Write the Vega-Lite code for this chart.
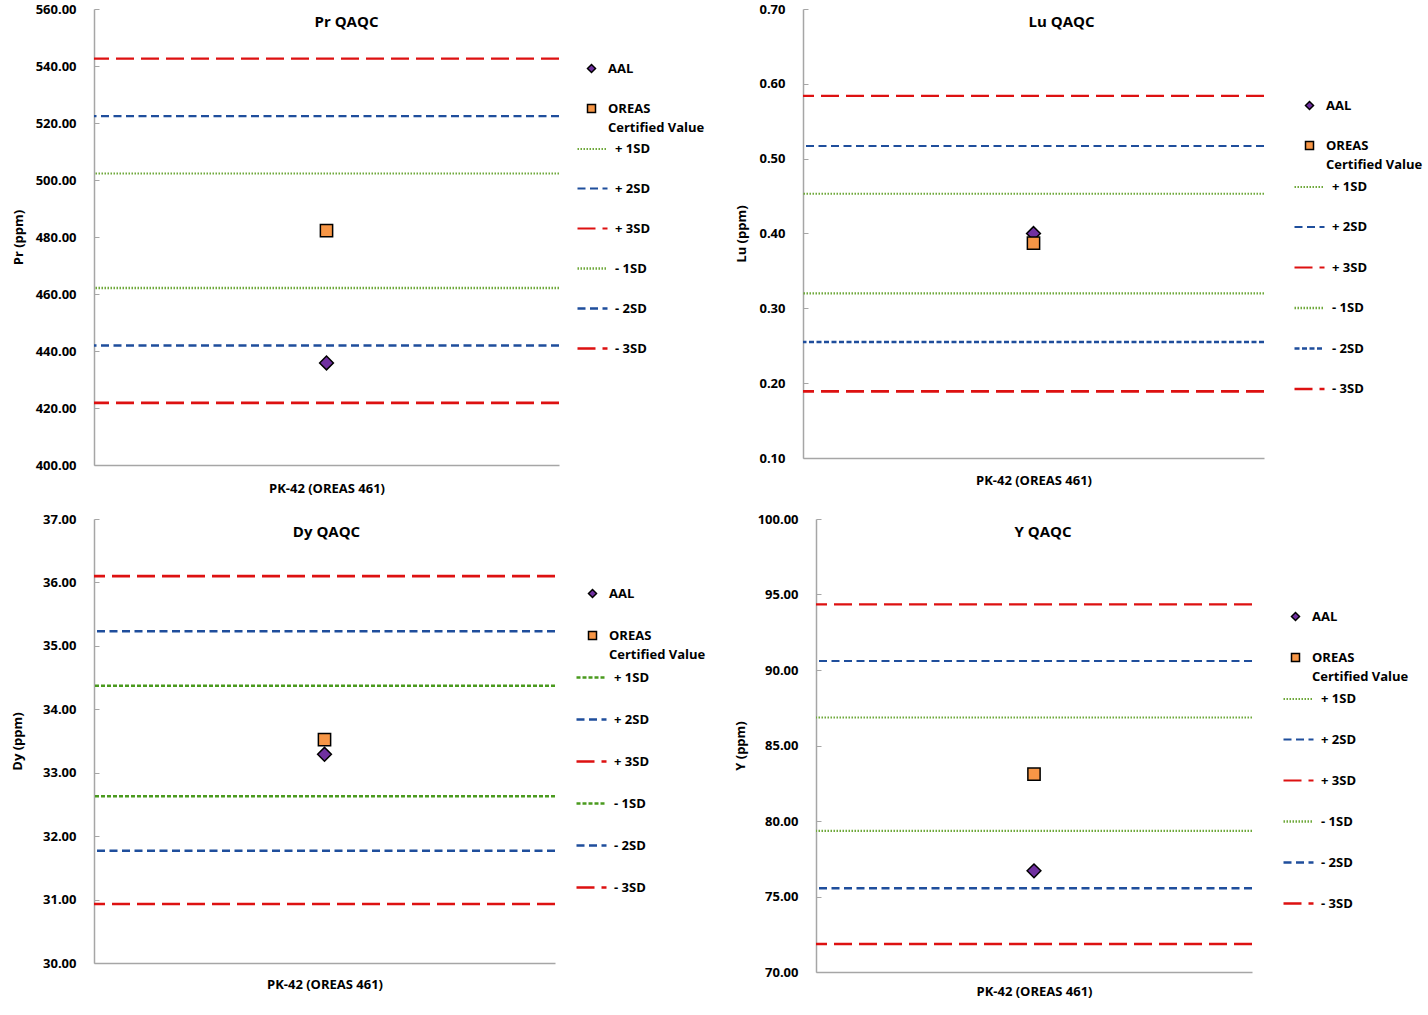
{
  "$schema": "https://vega.github.io/schema/vega-lite/v6.json",
  "background": "white",
  "padding": {"left": 11, "top": 3, "right": 0, "bottom": 0},
  "config": {
    "font": "Open Sans",
    "view": {"stroke": null},
    "style": {"guide-label": {"lineHeight": 19, "dy": 4}},
    "axis": {
      "grid": false,
      "domainColor": "#A6A6A6",
      "domainWidth": 1.5,
      "tickColor": "#A6A6A6",
      "labelFont": "Open Sans",
      "labelFontWeight": "bold",
      "labelFontSize": 13,
      "labelColor": "black",
      "titleFont": "Open Sans",
      "titleFontWeight": "bold",
      "titleFontSize": 13,
      "titleColor": "black"
    },
    "axisY": {"labelBaseline": "alphabetic"},
    "legend": {
      "labelFont": "Open Sans",
      "labelFontWeight": "bold",
      "labelFontSize": 13,
      "labelColor": "black",
      "labelBaseline": "alphabetic",
      "title": null
    },
    "title": {"font": "Open Sans", "fontWeight": "bold", "fontSize": 15, "color": "black", "anchor": "middle", "frame": "group"}
  },
  "spacing": 18,
  "resolve": {"scale": {"x": "independent", "y": "independent", "stroke": "independent", "strokeDash": "independent", "strokeWidth": "independent", "fill": "independent", "shape": "independent"}, "legend": {"stroke": "independent", "fill": "independent", "shape": "independent", "strokeDash": "independent", "strokeWidth": "independent"}},
  "vconcat": [
    {
      "spacing": 30,
      "resolve": {"scale": {"x": "independent", "y": "independent", "stroke": "independent", "strokeDash": "independent", "strokeWidth": "independent", "fill": "independent", "shape": "independent"}, "legend": {"stroke": "independent", "fill": "independent", "shape": "independent", "strokeDash": "independent", "strokeWidth": "independent"}},
      "hconcat": [
        {
          "width": 465,
          "height": 456,
          "title": {"text": "Pr QAQC", "offset": -27, "dx": 20},
          "data": {"values": [
            {"sample": "PK-42 (OREAS 461)", "kind": "line", "series": "+ 1SD", "value": 502.3},
            {"sample": "PK-42 (OREAS 461)", "kind": "line", "series": "+ 2SD", "value": 522.4},
            {"sample": "PK-42 (OREAS 461)", "kind": "line", "series": "+ 3SD", "value": 542.6},
            {"sample": "PK-42 (OREAS 461)", "kind": "line", "series": "- 1SD", "value": 462.1},
            {"sample": "PK-42 (OREAS 461)", "kind": "line", "series": "- 2SD", "value": 441.9},
            {"sample": "PK-42 (OREAS 461)", "kind": "line", "series": "- 3SD", "value": 421.8},
            {"sample": "PK-42 (OREAS 461)", "kind": "point", "series": "AAL", "value": 435.8},
            {"sample": "PK-42 (OREAS 461)", "kind": "point", "series": "OREAS Certified Value", "value": 482.2}
          ]},
          "encoding": {
            "y": {"field": "value", "type": "quantitative", "scale": {"domain": [400, 560], "nice": false, "zero": false},
              "axis": {"title": "Pr (ppm)", "values": [400, 420, 440, 460, 480, 500, 520, 540, 560], "format": ".2f", "tickSize": -5, "labelPadding": 23, "titlePadding": 10}}
          },
          "layer": [
            {
              "transform": [{"filter": "datum.kind == 'line'"}],
              "mark": {"type": "rule"},
              "encoding": {
                "stroke": {"field": "series", "type": "nominal",
                  "scale": {"domain": ["+ 1SD", "+ 2SD", "+ 3SD", "- 1SD", "- 2SD", "- 3SD"], "range": ["#6EA83A", "#1F4E9C", "#DD1111", "#6EA83A", "#1F4E9C", "#DD1111"]},
                  "legend": {"orient": "none", "legendX": 482, "legendY": 124, "symbolType": "stroke", "symbolSize": 900, "labelOffset": 6, "rowPadding": 16}},
                "strokeDash": {"field": "series", "type": "nominal",
                  "scale": {"domain": ["+ 1SD", "+ 2SD", "+ 3SD", "- 1SD", "- 2SD", "- 3SD"], "range": [[1.5, 1.5], [8, 4.5], [18, 7], [1.5, 1.5], [8, 4.5], [18, 7]]}},
                "strokeWidth": {"field": "series", "type": "nominal",
                  "scale": {"domain": ["+ 1SD", "+ 2SD", "+ 3SD", "- 1SD", "- 2SD", "- 3SD"], "range": [2, 2.6, 3.2, 2, 2.6, 3.2]}}
              }
            },
            {
              "transform": [{"filter": "datum.kind == 'point'"}],
              "mark": {"type": "point", "filled": true, "stroke": "black", "strokeWidth": 1.5, "opacity": 1},
              "encoding": {
                "x": {"field": "sample", "type": "nominal", "axis": {"title": null, "ticks": false, "labelAngle": 0, "labelPadding": 13, "labelFontSize": 13}},
                "fill": {"field": "series", "type": "nominal",
                  "scale": {"domain": ["AAL", "OREAS Certified Value"], "range": ["#7030A0", "#F79646"]},
                  "legend": {"orient": "none", "legendX": 491, "legendY": 53, "symbolSize": 64, "labelOffset": 10, "rowPadding": 25,
                    "labelExpr": "datum.label == 'OREAS Certified Value' ? ['OREAS', 'Certified Value'] : datum.label"}},
                "shape": {"field": "series", "type": "nominal",
                  "scale": {"domain": ["AAL", "OREAS Certified Value"], "range": ["diamond", "square"]},
                  "legend": {"orient": "none", "legendX": 491, "legendY": 53, "symbolSize": 64, "labelOffset": 10, "rowPadding": 25,
                    "labelExpr": "datum.label == 'OREAS Certified Value' ? ['OREAS', 'Certified Value'] : datum.label"}},
                "size": {"field": "series", "type": "nominal", "scale": {"domain": ["AAL", "OREAS Certified Value"], "range": [190, 150]}, "legend": null}
              }
            }
          ]
        },
        {
          "width": 461,
          "height": 449,
          "title": {"text": "Lu QAQC", "offset": -27, "dx": 28},
          "data": {"values": [
            {"sample": "PK-42 (OREAS 461)", "kind": "line", "series": "+ 1SD", "value": 0.453},
            {"sample": "PK-42 (OREAS 461)", "kind": "line", "series": "+ 2SD", "value": 0.517},
            {"sample": "PK-42 (OREAS 461)", "kind": "line", "series": "+ 3SD", "value": 0.584},
            {"sample": "PK-42 (OREAS 461)", "kind": "line", "series": "- 1SD", "value": 0.320},
            {"sample": "PK-42 (OREAS 461)", "kind": "line", "series": "- 2SD", "value": 0.255},
            {"sample": "PK-42 (OREAS 461)", "kind": "line", "series": "- 3SD", "value": 0.189},
            {"sample": "PK-42 (OREAS 461)", "kind": "point", "series": "AAL", "value": 0.400},
            {"sample": "PK-42 (OREAS 461)", "kind": "point", "series": "OREAS Certified Value", "value": 0.387}
          ]},
          "encoding": {
            "y": {"field": "value", "type": "quantitative", "scale": {"domain": [0.1, 0.7], "nice": false, "zero": false},
              "axis": {"title": "Lu (ppm)", "values": [0.1, 0.2, 0.3, 0.4, 0.5, 0.6, 0.7], "format": ".2f", "tickSize": -5, "labelPadding": 23, "titlePadding": 10}}
          },
          "layer": [
            {
              "transform": [{"filter": "datum.kind == 'line'"}],
              "mark": {"type": "rule"},
              "encoding": {
                "stroke": {"field": "series", "type": "nominal",
                  "scale": {"domain": ["+ 1SD", "+ 2SD", "+ 3SD", "- 1SD", "- 2SD", "- 3SD"], "range": ["#6EA83A", "#1F4E9C", "#DD1111", "#6EA83A", "#1F4E9C", "#DD1111"]},
                  "legend": {"orient": "none", "legendX": 490, "legendY": 162, "symbolType": "stroke", "symbolSize": 900, "labelOffset": 6, "rowPadding": 16.5}},
                "strokeDash": {"field": "series", "type": "nominal",
                  "scale": {"domain": ["+ 1SD", "+ 2SD", "+ 3SD", "- 1SD", "- 2SD", "- 3SD"], "range": [[1.5, 1.5], [8, 4.5], [18, 7], [1.5, 1.5], [5, 2.5], [18, 7]]}},
                "strokeWidth": {"field": "series", "type": "nominal",
                  "scale": {"domain": ["+ 1SD", "+ 2SD", "+ 3SD", "- 1SD", "- 2SD", "- 3SD"], "range": [2, 2.6, 3.2, 2, 2.6, 3.2]}}
              }
            },
            {
              "transform": [{"filter": "datum.kind == 'point'"}],
              "mark": {"type": "point", "filled": true, "stroke": "black", "strokeWidth": 1.5, "opacity": 1},
              "encoding": {
                "x": {"field": "sample", "type": "nominal", "axis": {"title": null, "ticks": false, "labelAngle": 0, "labelPadding": 12, "labelFontSize": 13}},
                "fill": {"field": "series", "type": "nominal",
                  "scale": {"domain": ["AAL", "OREAS Certified Value"], "range": ["#7030A0", "#F79646"]},
                  "legend": {"orient": "none", "legendX": 500, "legendY": 90, "symbolSize": 64, "labelOffset": 10, "rowPadding": 25,
                    "labelExpr": "datum.label == 'OREAS Certified Value' ? ['OREAS', 'Certified Value'] : datum.label"}},
                "shape": {"field": "series", "type": "nominal",
                  "scale": {"domain": ["AAL", "OREAS Certified Value"], "range": ["diamond", "square"]},
                  "legend": {"orient": "none", "legendX": 500, "legendY": 90, "symbolSize": 64, "labelOffset": 10, "rowPadding": 25,
                    "labelExpr": "datum.label == 'OREAS Certified Value' ? ['OREAS', 'Certified Value'] : datum.label"}},
                "size": {"field": "series", "type": "nominal", "scale": {"domain": ["AAL", "OREAS Certified Value"], "range": [190, 150]}, "legend": null}
              }
            }
          ]
        }
      ]
    },
    {
      "spacing": 28,
      "resolve": {"scale": {"x": "independent", "y": "independent", "stroke": "independent", "strokeDash": "independent", "strokeWidth": "independent", "fill": "independent", "shape": "independent"}, "legend": {"stroke": "independent", "fill": "independent", "shape": "independent", "strokeDash": "independent", "strokeWidth": "independent"}},
      "hconcat": [
        {
          "width": 461,
          "height": 444,
          "title": {"text": "Dy QAQC", "offset": -27, "dx": 2},
          "data": {"values": [
            {"sample": "PK-42 (OREAS 461)", "kind": "line", "series": "+ 1SD", "value": 34.37},
            {"sample": "PK-42 (OREAS 461)", "kind": "line", "series": "+ 2SD", "value": 35.23},
            {"sample": "PK-42 (OREAS 461)", "kind": "line", "series": "+ 3SD", "value": 36.10},
            {"sample": "PK-42 (OREAS 461)", "kind": "line", "series": "- 1SD", "value": 32.63},
            {"sample": "PK-42 (OREAS 461)", "kind": "line", "series": "- 2SD", "value": 31.77},
            {"sample": "PK-42 (OREAS 461)", "kind": "line", "series": "- 3SD", "value": 30.93},
            {"sample": "PK-42 (OREAS 461)", "kind": "point", "series": "AAL", "value": 33.29},
            {"sample": "PK-42 (OREAS 461)", "kind": "point", "series": "OREAS Certified Value", "value": 33.52}
          ]},
          "encoding": {
            "y": {"field": "value", "type": "quantitative", "scale": {"domain": [30, 37], "nice": false, "zero": false},
              "axis": {"title": "Dy (ppm)", "values": [30, 31, 32, 33, 34, 35, 36, 37], "format": ".2f", "tickSize": -5, "labelPadding": 23, "titlePadding": 18}}
          },
          "layer": [
            {
              "transform": [{"filter": "datum.kind == 'line'"}],
              "mark": {"type": "rule"},
              "encoding": {
                "stroke": {"field": "series", "type": "nominal",
                  "scale": {"domain": ["+ 1SD", "+ 2SD", "+ 3SD", "- 1SD", "- 2SD", "- 3SD"], "range": ["#4A9A1E", "#1F4E9C", "#DD1111", "#4A9A1E", "#1F4E9C", "#DD1111"]},
                  "legend": {"orient": "none", "legendX": 481, "legendY": 142, "symbolType": "stroke", "symbolSize": 900, "labelOffset": 6, "rowPadding": 18}},
                "strokeDash": {"field": "series", "type": "nominal",
                  "scale": {"domain": ["+ 1SD", "+ 2SD", "+ 3SD", "- 1SD", "- 2SD", "- 3SD"], "range": [[4, 2], [8, 4.5], [18, 7], [4, 2], [8, 4.5], [18, 7]]}},
                "strokeWidth": {"field": "series", "type": "nominal",
                  "scale": {"domain": ["+ 1SD", "+ 2SD", "+ 3SD", "- 1SD", "- 2SD", "- 3SD"], "range": [2.6, 2.6, 3.2, 2.6, 2.6, 3.2]}}
              }
            },
            {
              "transform": [{"filter": "datum.kind == 'point'"}],
              "mark": {"type": "point", "filled": true, "stroke": "black", "strokeWidth": 1.5, "opacity": 1},
              "encoding": {
                "x": {"field": "sample", "type": "nominal", "axis": {"title": null, "ticks": false, "labelAngle": 0, "labelPadding": 11, "labelFontSize": 13}},
                "fill": {"field": "series", "type": "nominal",
                  "scale": {"domain": ["AAL", "OREAS Certified Value"], "range": ["#7030A0", "#F79646"]},
                  "legend": {"orient": "none", "legendX": 492, "legendY": 68, "symbolSize": 64, "labelOffset": 10, "rowPadding": 27,
                    "labelExpr": "datum.label == 'OREAS Certified Value' ? ['OREAS', 'Certified Value'] : datum.label"}},
                "shape": {"field": "series", "type": "nominal",
                  "scale": {"domain": ["AAL", "OREAS Certified Value"], "range": ["diamond", "square"]},
                  "legend": {"orient": "none", "legendX": 492, "legendY": 68, "symbolSize": 64, "labelOffset": 10, "rowPadding": 27,
                    "labelExpr": "datum.label == 'OREAS Certified Value' ? ['OREAS', 'Certified Value'] : datum.label"}},
                "size": {"field": "series", "type": "nominal", "scale": {"domain": ["AAL", "OREAS Certified Value"], "range": [190, 150]}, "legend": null}
              }
            }
          ]
        },
        {
          "width": 436,
          "height": 453,
          "title": {"text": "Y QAQC", "offset": -27, "dx": 9},
          "data": {"values": [
            {"sample": "PK-42 (OREAS 461)", "kind": "line", "series": "+ 1SD", "value": 86.85},
            {"sample": "PK-42 (OREAS 461)", "kind": "line", "series": "+ 2SD", "value": 90.6},
            {"sample": "PK-42 (OREAS 461)", "kind": "line", "series": "+ 3SD", "value": 94.35},
            {"sample": "PK-42 (OREAS 461)", "kind": "line", "series": "- 1SD", "value": 79.35},
            {"sample": "PK-42 (OREAS 461)", "kind": "line", "series": "- 2SD", "value": 75.55},
            {"sample": "PK-42 (OREAS 461)", "kind": "line", "series": "- 3SD", "value": 71.85},
            {"sample": "PK-42 (OREAS 461)", "kind": "point", "series": "AAL", "value": 76.7},
            {"sample": "PK-42 (OREAS 461)", "kind": "point", "series": "OREAS Certified Value", "value": 83.1}
          ]},
          "encoding": {
            "y": {"field": "value", "type": "quantitative", "scale": {"domain": [70, 100], "nice": false, "zero": false},
              "axis": {"title": "Y (ppm)", "values": [70, 75, 80, 85, 90, 95, 100], "format": ".2f", "tickSize": -5, "labelPadding": 23, "titlePadding": 10}}
          },
          "layer": [
            {
              "transform": [{"filter": "datum.kind == 'line'"}],
              "mark": {"type": "rule"},
              "encoding": {
                "stroke": {"field": "series", "type": "nominal",
                  "scale": {"domain": ["+ 1SD", "+ 2SD", "+ 3SD", "- 1SD", "- 2SD", "- 3SD"], "range": ["#6EA83A", "#1F4E9C", "#DD1111", "#6EA83A", "#1F4E9C", "#DD1111"]},
                  "legend": {"orient": "none", "legendX": 466, "legendY": 164, "symbolType": "stroke", "symbolSize": 900, "labelOffset": 6, "rowPadding": 17}},
                "strokeDash": {"field": "series", "type": "nominal",
                  "scale": {"domain": ["+ 1SD", "+ 2SD", "+ 3SD", "- 1SD", "- 2SD", "- 3SD"], "range": [[1.5, 1.5], [8, 4.5], [18, 7], [1.5, 1.5], [8, 4.5], [18, 7]]}},
                "strokeWidth": {"field": "series", "type": "nominal",
                  "scale": {"domain": ["+ 1SD", "+ 2SD", "+ 3SD", "- 1SD", "- 2SD", "- 3SD"], "range": [2, 2.6, 3.2, 2, 2.6, 3.2]}}
              }
            },
            {
              "transform": [{"filter": "datum.kind == 'point'"}],
              "mark": {"type": "point", "filled": true, "stroke": "black", "strokeWidth": 1.5, "opacity": 1},
              "encoding": {
                "x": {"field": "sample", "type": "nominal", "axis": {"title": null, "ticks": false, "labelAngle": 0, "labelPadding": 9, "labelFontSize": 13}},
                "fill": {"field": "series", "type": "nominal",
                  "scale": {"domain": ["AAL", "OREAS Certified Value"], "range": ["#7030A0", "#F79646"]},
                  "legend": {"orient": "none", "legendX": 473, "legendY": 91, "symbolSize": 64, "labelOffset": 10, "rowPadding": 26,
                    "labelExpr": "datum.label == 'OREAS Certified Value' ? ['OREAS', 'Certified Value'] : datum.label"}},
                "shape": {"field": "series", "type": "nominal",
                  "scale": {"domain": ["AAL", "OREAS Certified Value"], "range": ["diamond", "square"]},
                  "legend": {"orient": "none", "legendX": 473, "legendY": 91, "symbolSize": 64, "labelOffset": 10, "rowPadding": 26,
                    "labelExpr": "datum.label == 'OREAS Certified Value' ? ['OREAS', 'Certified Value'] : datum.label"}},
                "size": {"field": "series", "type": "nominal", "scale": {"domain": ["AAL", "OREAS Certified Value"], "range": [190, 150]}, "legend": null}
              }
            }
          ]
        }
      ]
    }
  ]
}
